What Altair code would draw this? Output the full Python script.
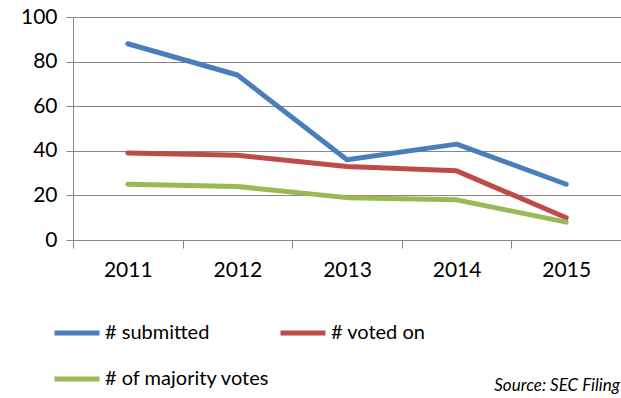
import altair as alt
import pandas as pd

years = ["2011", "2012", "2013", "2014", "2015"]
submitted = [88, 74, 36, 43, 25]
voted_on = [39, 38, 33, 31, 10]
majority = [25, 24, 19, 18, 8]
series_names = ["# submitted", "# voted on", "# of majority votes"]
colors = ["#4A7EBB", "#BE4B48", "#98B954"]
source_note = ["Source: SEC Filing"]

rows = []
for name, vals in zip(series_names, [submitted, voted_on, majority]):
    for yr, v in zip(years, vals):
        rows.append({"year": yr, "value": v, "series": name})
df = pd.DataFrame(rows)

FONT = "Lato"
GRID = "#868686"
W, H = 548, 223

lines = alt.Chart(df).mark_line(strokeWidth=5, strokeCap="round", strokeJoin="round").encode(
    x=alt.X("year:N", bandPosition=0.5,
            scale=alt.Scale(type="band", paddingInner=0, paddingOuter=0),
            axis=alt.Axis(title=None, tickBand="extent", labelAngle=0, grid=False,
                          domainColor=GRID, tickColor=GRID, tickSize=8,
                          labelFontSize=21, labelFont=FONT, labelColor="#000000",
                          labelPadding=11)),
    y=alt.Y("value:Q", scale=alt.Scale(domain=[0, 100]),
            axis=alt.Axis(title=None, values=[0, 20, 40, 60, 80, 100], grid=True,
                          gridColor=GRID, domainColor=GRID, tickColor=GRID, tickSize=7,
                          labelFontSize=21, labelFont=FONT, labelColor="#000000",
                          labelPadding=9)),
    color=alt.Color("series:N", scale=alt.Scale(domain=series_names, range=colors),
                    legend=alt.Legend(title=None, orient="none", legendX=-21, legendY=291,
                                      direction="horizontal", columns=2,
                                      symbolType="stroke", symbolSize=2025,
                                      symbolStrokeWidth=5, labelFontSize=20,
                                      labelFont=FONT, labelColor="#000000",
                                      labelOffset=3, columnPadding=0, rowPadding=11,
                                      labelLimit=400)),
)

note = alt.Chart(pd.DataFrame({"t": source_note})).mark_text(
    align="right", baseline="middle", fontStyle="italic", fontSize=17, font=FONT, color="#000000"
).encode(text="t:N", x=alt.value(W - 1), y=alt.value(369))

chart = alt.layer(lines, note).properties(
    width=W, height=H,
    autosize=alt.AutoSizeParams(type="none"),
    padding={"left": 73, "top": 17, "right": 0, "bottom": 158},
).configure_view(stroke=None)

chart.save("out.html", embed_options={"renderer": "svg", "actions": False})
